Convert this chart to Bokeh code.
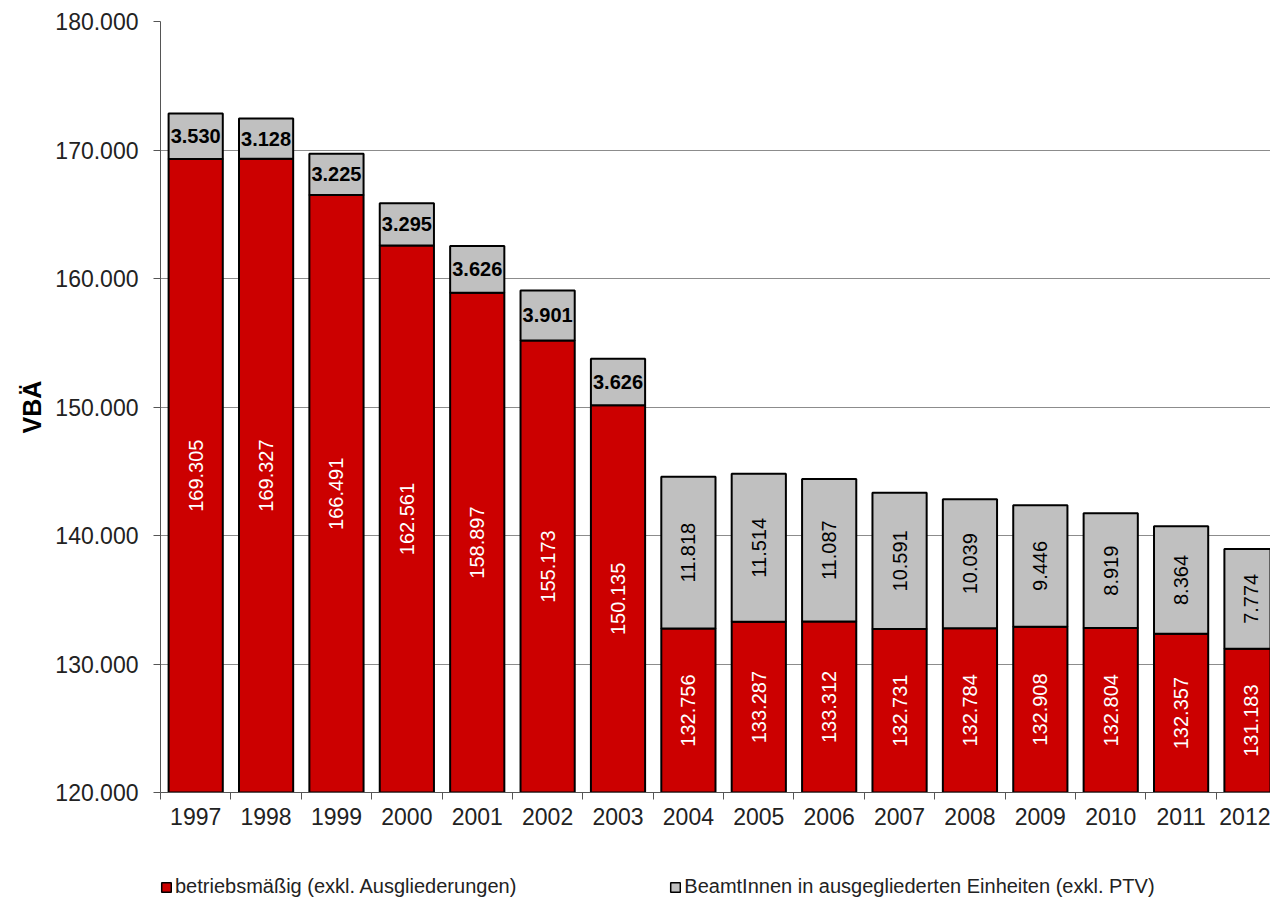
import math
from bokeh.plotting import figure
from bokeh.layouts import column
from bokeh.models import (ColumnDataSource, Range1d, FixedTicker, Legend, LegendItem)
from bokeh.core.properties import value
from bokeh.embed import file_html
from bokeh.resources import INLINE

years = ["1997", "1998", "1999", "2000", "2001", "2002", "2003", "2004",
         "2005", "2006", "2007", "2008", "2009", "2010", "2011", "2012"]
betrieb = [169305, 169327, 166491, 162561, 158897, 155173, 150135, 132756,
           133287, 133312, 132731, 132784, 132908, 132804, 132357, 131183]
beamte = [3530, 3128, 3225, 3295, 3626, 3901, 3626, 11818,
          11514, 11087, 10591, 10039, 9446, 8919, 8364, 7774]
y_ticks = [120000, 130000, 140000, 150000, 160000, 170000, 180000]
series_names = ["betriebsmäßig (exkl. Ausgliederungen)",
                "BeamtInnen in ausgegliederten Einheiten (exkl. PTV)"]

FONT = "Liberation Sans"
RED = "#CC0000"
GRAY = "#C0C0C0"


def de(v):
    return f"{v:,}".replace(",", ".")


n = len(years)
x = [i + 0.5 for i in range(n)]
ymin, ymax = y_ticks[0], y_ticks[-1]
tops = [a + b for a, b in zip(betrieb, beamte)]

src = ColumnDataSource(dict(
    x=x, red=betrieb, top=tops,
    red_mid=[(ymin + r) / 2 for r in betrieb],
    gray_mid=[r + g / 2 for r, g in zip(betrieb, beamte)],
    red_lbl=[de(v) for v in betrieb],
    gray_lbl=[de(v) for v in beamte],
))

split = 7
src_h = ColumnDataSource({k: v[:split] for k, v in src.data.items()})
src_v = ColumnDataSource({k: v[split:] for k, v in src.data.items()})

p = figure(width=1270, height=850, output_backend="svg", toolbar_location=None,
           x_range=Range1d(0, 15.77), y_range=Range1d(ymin, ymax),
           min_border_left=160, min_border_right=0, min_border_top=21,
           min_border_bottom=58)
p.outline_line_color = None
p.background_fill_color = "white"
p.border_fill_color = "white"

p.vbar(x="x", width=0.77, bottom=0, top="red", source=src,
       fill_color=RED, line_color="black", line_width=2)
p.vbar(x="x", width=0.77, bottom="red", top="top", source=src,
       fill_color=GRAY, line_color="black", line_width=2)

p.text(x="x", y="red_mid", text="red_lbl", source=src, angle=math.pi / 2,
       text_align="center", text_baseline="middle", text_color="white",
       text_font=value(FONT), text_font_size="20px")
p.text(x="x", y="gray_mid", text="gray_lbl", source=src_h,
       text_align="center", text_baseline="middle", text_color="black",
       text_font=value(FONT), text_font_size="20px", text_font_style="bold")
p.text(x="x", y="gray_mid", text="gray_lbl", source=src_v, angle=math.pi / 2,
       text_align="center", text_baseline="middle", text_color="black",
       text_font=value(FONT), text_font_size="20px")

# grid
p.xgrid.visible = False
p.ygrid.ticker = FixedTicker(ticks=y_ticks)
p.ygrid.grid_line_color = "#8c8c8c"
p.ygrid.grid_line_width = 1
p.ygrid.level = "underlay"

# y axis
p.yaxis.ticker = FixedTicker(ticks=y_ticks)
p.yaxis.major_label_overrides = {t: de(t) for t in y_ticks}
p.yaxis.major_label_text_font = FONT
p.yaxis.major_label_text_font_size = "23px"
p.yaxis.major_label_text_color = "#222222"
p.yaxis.major_tick_in = 0
p.yaxis.major_tick_out = 7
p.yaxis.major_label_standoff = 15
p.yaxis.minor_tick_line_color = None
p.yaxis.axis_line_color = "#555555"
p.yaxis.major_tick_line_color = "#555555"
p.yaxis.axis_label = "VBÄ"
p.yaxis.axis_label_text_font = FONT
p.yaxis.axis_label_text_font_size = "25px"
p.yaxis.axis_label_text_font_style = "bold"
p.yaxis.axis_label_text_color = "black"
p.yaxis.axis_label_standoff = 6

# x axis
p.xaxis.ticker = FixedTicker(ticks=x, minor_ticks=list(range(n + 1)))
p.xaxis.major_label_overrides = {xx: y for xx, y in zip(x, years)}
p.xaxis.major_label_text_font = FONT
p.xaxis.major_label_text_font_size = "23px"
p.xaxis.major_label_text_color = "#222222"
p.xaxis.major_tick_line_alpha = 0
p.xaxis.major_tick_in = 0
p.xaxis.major_tick_out = 6
p.xaxis.minor_tick_in = 0
p.xaxis.minor_tick_out = 7
p.xaxis.minor_tick_line_color = "#555555"
p.xaxis.major_label_standoff = 8
p.xaxis.axis_line_color = "#555555"

# legend strip below the chart (its frame is aligned with the chart frame)
lg = figure(width=1270, height=52, output_backend="svg", toolbar_location=None,
            x_range=Range1d(0, 15.77), y_range=Range1d(0, 100000),
            min_border=0, min_border_left=0, min_border_right=0,
            min_border_top=0, min_border_bottom=0)
lg.axis.visible = False
lg.grid.visible = False
lg.outline_line_color = None
lg.border_fill_color = "white"
# hidden legend proxies (same data, not drawn); legend keeps their swatches
d_red = lg.vbar(x="x", bottom="red", top="top", width=0.77, source=src,
                fill_color=RED, line_color="black", line_width=1.5, visible=False)
d_gray = lg.vbar(x="x", bottom="red", top="top", width=0.77, source=src,
                 fill_color=GRAY, line_color="black", line_width=1.5, visible=False)

legend = Legend(
    items=[LegendItem(label=series_names[0], renderers=[d_red]),
           LegendItem(label=series_names[1], renderers=[d_gray])],
    location=(0, 4), orientation="horizontal",
    glyph_width=12, glyph_height=12, label_standoff=3, spacing=153,
    padding=0, margin=0, border_line_color=None, background_fill_alpha=0,
    inactive_fill_alpha=0,
    label_text_font=FONT, label_text_font_size="20px",
    label_text_color="#222222", label_height=20)
lg.add_layout(legend, "center")

open("out.html", "w").write(file_html(column(p, lg, spacing=0), INLINE))
